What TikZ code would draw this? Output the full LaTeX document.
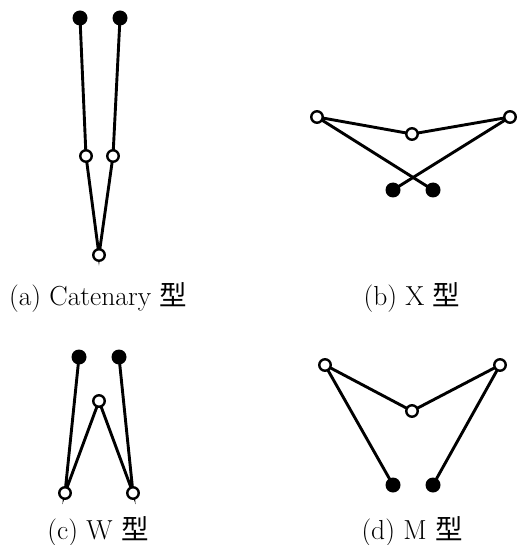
\documentclass[tikz,border=0pt]{standalone}
\usepackage{fontspec}
\newfontfamily\cjk{Noto Sans CJK SC}
\begin{document}
\begin{tikzpicture}[x=1pt,y=-1pt,
  opendot/.style={circle,draw=black,fill=white,line width=2.4pt,inner sep=0pt,minimum size=11.5pt},
  fulldot/.style={circle,fill=black,inner sep=0pt,minimum size=15pt},
  link/.style={line width=2.9pt,line cap=round},
  caption/.style={anchor=base,font=\fontsize{27.5}{32}\selectfont}]
\useasboundingbox (0,0) rectangle (518,545);
% (a) Catenary
\coordinate (a1) at (80,18);
\coordinate (a2) at (120,18);
\coordinate (a3) at (86,156);
\coordinate (a4) at (113,156);
\coordinate (a5) at (99,255);
\draw[link] (a1) -- (a3) -- (a5) -- (a4) -- (a2);
\node[fulldot] (na1) at (a1) {};
\node[fulldot] (na2) at (a2) {};
\node[opendot] (na3) at (a3) {};
\node[opendot] (na4) at (a4) {};
\node[opendot] (na5) at (a5) {};
\node[caption] (ca) at (98,305) {(a) Catenary {\cjk 型}};
% (b) X
\coordinate (b1) at (317,117);
\coordinate (b2) at (412,134);
\coordinate (b3) at (510,117);
\coordinate (b4) at (393,190);
\coordinate (b5) at (433,190);
\draw[link] (b1) -- (b2) -- (b3);
\draw[link] (b1) -- (b5);
\draw[link] (b3) -- (b4);
\node[opendot] (nb1) at (b1) {};
\node[opendot] (nb2) at (b2) {};
\node[opendot] (nb3) at (b3) {};
\node[fulldot] (nb4) at (b4) {};
\node[fulldot] (nb5) at (b5) {};
\node[caption] (cb) at (412,305) {(b) X {\cjk 型}};
% (c) W
\coordinate (c1) at (79,357);
\coordinate (c2) at (119,357);
\coordinate (c3) at (99,401);
\coordinate (c4) at (65,493);
\coordinate (c5) at (133,493);
\draw[link] (c1) -- (c4) -- (c3) -- (c5) -- (c2);
\node[fulldot] (nc1) at (c1) {};
\node[fulldot] (nc2) at (c2) {};
\node[opendot] (nc3) at (c3) {};
\node[opendot] (nc4) at (c4) {};
\node[opendot] (nc5) at (c5) {};
\node[caption] (cc) at (98,539) {(c) W {\cjk 型}};
% (d) M
\coordinate (d1) at (325,365);
\coordinate (d2) at (412,411);
\coordinate (d3) at (500,365);
\coordinate (d4) at (393,485);
\coordinate (d5) at (433,485);
\draw[link] (d1) -- (d2) -- (d3);
\draw[link] (d1) -- (d4);
\draw[link] (d3) -- (d5);
\node[opendot] (nd1) at (d1) {};
\node[opendot] (nd2) at (d2) {};
\node[opendot] (nd3) at (d3) {};
\node[fulldot] (nd4) at (d4) {};
\node[fulldot] (nd5) at (d5) {};
\node[caption] (cd) at (412,539) {(d) M {\cjk 型}};
\end{tikzpicture}
\end{document}
